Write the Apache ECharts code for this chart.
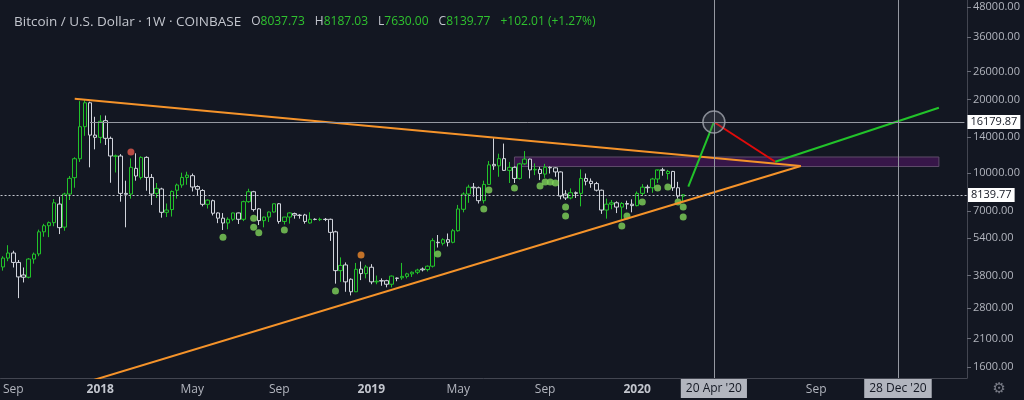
<!DOCTYPE html>
<html>
<head>
<meta charset="utf-8">
<script src="https://cdn.jsdelivr.net/npm/echarts@6/dist/echarts.min.js"></script>
<style>
  html, body { margin: 0; padding: 0; background: #131722; }
  #main { width: 1024px; height: 400px; }
</style>
</head>
<body>
<div id="main"></div>
<script>
// weekly candles from 2017-08-21, [open, high, low, close]
const firstWeek = '2017-08-21';
const weekCount = 189;
const ohlc = [
  [4120, 4560, 3980, 4480], [4480, 5060, 4350, 4700], [4700, 4800, 4100, 4300], [4300, 4400, 3070, 3750],
  [3820, 4100, 3560, 3740], [3740, 4480, 3700, 4440], [4440, 4720, 4250, 4650], [4660, 5860, 4560, 5740],
  [5740, 6190, 5480, 6080], [6080, 6330, 5460, 6260], [6260, 7820, 6050, 7550], [7460, 8000, 5620, 5970],
  [6000, 8300, 5800, 8200], [8200, 9720, 7750, 9510], [9570, 11600, 8700, 11440], [11440, 19700, 11100, 15480],
  [15480, 19891, 14200, 19400], [19400, 19600, 10550, 14300], [14300, 17000, 12500, 14000], [14000, 17250, 13240, 16290],
  [16390, 17200, 13030, 13870], [13870, 14100, 9120, 11740], [11700, 11900, 10050, 11760], [11740, 11950, 7630, 8250],
  [8250, 9300, 5990, 8180], [8200, 11480, 7850, 10550], [10450, 12040, 9300, 9720], [9590, 11700, 9400, 11590],
  [11590, 11700, 8460, 9590], [9590, 9900, 7395, 8200], [8250, 9100, 7900, 8650], [8600, 8700, 6560, 6900],
  [6900, 7500, 6600, 7050], [7080, 8480, 6630, 8400], [8500, 9050, 7850, 8930], [8930, 10030, 8700, 9590],
  [9590, 10120, 8950, 9800], [9750, 9950, 8400, 8760], [8800, 8900, 8050, 8580], [8480, 8580, 7300, 7440],
  [7440, 7800, 7150, 7740], [7700, 7780, 6700, 6840], [6860, 6900, 6230, 6530], [6530, 6850, 5840, 6240],
  [6240, 6580, 5880, 6460], [6460, 6880, 6350, 6860], [6860, 6880, 6180, 6460], [6460, 7700, 6350, 7630],
  [7630, 8620, 7550, 8380], [8380, 8450, 6950, 7080], [7130, 7180, 6120, 6380], [6380, 6620, 5990, 6600],
  [6600, 6950, 6300, 6920], [6920, 7500, 6880, 7480], [7480, 7530, 6200, 6330], [6330, 6600, 6150, 6600],
  [6600, 6900, 6200, 6860], [6820, 6880, 6500, 6720], [6720, 6780, 6500, 6700], [6730, 6800, 6200, 6330],
  [6240, 6900, 6200, 6460], [6460, 6520, 6400, 6450], [6440, 6560, 6350, 6460], [6460, 6540, 6350, 6450],
  [6460, 6500, 5270, 5710], [5740, 5800, 3520, 3980], [3980, 4510, 3580, 4180], [4200, 4300, 3260, 3580],
  [3670, 3700, 3150, 3260], [3260, 4280, 3250, 4030], [4040, 4340, 3640, 3870], [3870, 4200, 3700, 4120],
  [4110, 4230, 3500, 3580], [3580, 3800, 3500, 3600], [3620, 3700, 3450, 3610], [3620, 3650, 3400, 3500],
  [3500, 3800, 3400, 3780], [3710, 3730, 3600, 3700], [3720, 4280, 3650, 3770], [3770, 3900, 3700, 3860],
  [3860, 3950, 3750, 3920], [3920, 4050, 3850, 4000], [4040, 4100, 3950, 4010], [4020, 4180, 3950, 4150],
  [4150, 5400, 4100, 5280], [5200, 5570, 4950, 5180], [5150, 5400, 5050, 5330], [5330, 5650, 5000, 5200],
  [5200, 5900, 5150, 5800], [5800, 7400, 5750, 7120], [7100, 8330, 6900, 8200], [8200, 8950, 7550, 8750],
  [8750, 9100, 8000, 8700], [8700, 8800, 7500, 7700], [7700, 9300, 7500, 8980], [8980, 11200, 8950, 10800],
  [10850, 13880, 10300, 10700], [10700, 12000, 9650, 11450], [11450, 13200, 10200, 10250], [10250, 11100, 9100, 10550],
  [10550, 10650, 9100, 9500], [9500, 11000, 9400, 10900], [10900, 12300, 10800, 11400], [11400, 11450, 9500, 10300],
  [10300, 10950, 9800, 10350], [10350, 10600, 9350, 9950], [9900, 10900, 9550, 10550], [10550, 10650, 9950, 10500],
  [10500, 10550, 9650, 10100], [10100, 10150, 7800, 8050], [8200, 8500, 7750, 7900], [7900, 8650, 7800, 8300],
  [8300, 8400, 7900, 8250], [8250, 10350, 7300, 9500], [9500, 9950, 8900, 9250], [9250, 9500, 8700, 9050],
  [9050, 9200, 8400, 8500], [8500, 8550, 6800, 7050], [7050, 7850, 6500, 7450], [7450, 7750, 7100, 7550],
  [7550, 7650, 6850, 7250], [7250, 7600, 6450, 7500], [7500, 7700, 7100, 7450], [7450, 7800, 6900, 7350],
  [7350, 8400, 7300, 8250], [8250, 9000, 8050, 8750], [8750, 8950, 8300, 8700], [8700, 9550, 8300, 9450],
  [9450, 10200, 9100, 10300], [10300, 10500, 9750, 10250], [9950, 10300, 9400, 10150], [10150, 10200, 8450, 8700],
  [8700, 9200, 7850, 8040], [8037.73, 8187.03, 7630.00, 8139.77]
];

const greenDots = [
  ['2018-06-18', 5450], ['2018-07-30', 6520], ['2018-07-30', 5990], ['2018-08-06', 5690], ['2018-09-10', 5840],
  ['2018-11-19', 3285], ['2019-04-08', 4655], ['2019-06-10', 7120], ['2019-06-17', 8520], ['2019-07-22', 8680],
  ['2019-08-26', 8840], ['2019-09-02', 9185], ['2019-09-09', 9185], ['2019-09-16', 9100], ['2019-09-30', 7255],
  ['2019-09-30', 6665], ['2019-12-16', 6065], ['2019-12-23', 6665], ['2020-01-13', 7605], ['2020-02-03', 8680],
  ['2020-02-17', 8765], ['2020-03-02', 7605], ['2020-03-09', 7255], ['2020-03-09', 6600]
];
const redDots = [['2018-02-12', 12190]];
const orangeDots = [['2018-12-24', 4615]];

const upperTrend = [['2017-11-27', 20150], ['2020-08-17', 10680]];
const lowerTrend = [['2017-11-27', 1343], ['2020-08-17', 10680]];
const projUp = [['2020-03-16', 8790], ['2020-04-20', 16180]];
const projDown = [['2020-04-20', 16180], ['2020-07-13', 11120]];
const projUp2 = [['2020-07-13', 11120], ['2021-02-22', 18520]];
const circleAt = [['2020-04-20', 16180]];
const zone = [['2019-07-22', 11630], ['2021-02-22', 10630]];

const levelLine = ['2017-12-18', 16179.87];
const lastPrice = 8139.77;
const markedDates = ['2020-04-20', '2020-12-28'];
const markedLabels = ["20 Apr '20", "28 Dec '20"];

const yTicks = [48000, 36000, 26000, 20000, 14000, 10000, 7000, 5400, 3800, 2800, 2100, 1600];
const xTicks = [
  ['2017-09-04', 'Sep'], ['2018-01-01', '2018'], ['2018-05-07', 'May'], ['2018-09-03', 'Sep'],
  ['2019-01-07', '2019'], ['2019-05-06', 'May'], ['2019-09-02', 'Sep'], ['2020-01-06', '2020'],
  ['2020-09-07', 'Sep']
];

// build week categories
const weeks = [];
const d0 = new Date(firstWeek + 'T00:00:00Z');
for (let i = 0; i < weekCount; i++) {
  const d = new Date(d0.getTime() + i * 7 * 86400000);
  weeks.push(d.toISOString().slice(0, 10));
}
const lg = Math.log10;
const idx = (d) => weeks.indexOf(d);
const pt = (p) => [idx(p[0]), lg(p[1])];

const tickText = {};
xTicks.forEach(t => { tickText[t[0]] = t[1]; });
const isTick = (i, v) => tickText[v] !== undefined;

const candles = ohlc.map(r => [lg(r[0]), lg(r[3]), lg(r[2]), lg(r[1])]);

const lineSeries = (data, color, z) => ({
  type: 'line', data: data.map(pt), symbol: 'none', z: z, silent: true,
  lineStyle: { color: color, width: 2 }
});

const font = 'Open Sans';
const priceTag = (txt) => ({
  show: true, position: 'end', distance: 3, formatter: txt,
  backgroundColor: '#ffffff', color: '#131722', padding: [2, 3, 1, 3], fontSize: 11, fontFamily: font
});
const dateTag = (txt) => ({
  show: true, position: 'start', distance: 1, formatter: txt,
  backgroundColor: '#b2b5be', color: '#131722', padding: [4, 5, 3, 5], fontSize: 12, fontFamily: font
});

const chart = echarts.init(document.getElementById('main'));
chart.setOption({
  backgroundColor: '#131722',
  animation: false,
  title: {
    left: 9, top: 8,
    text: '{a|Bitcoin / U.S. Dollar · 1W · COINBASE}  {k|O}{v|8037.73}  {k|H}{v|8187.03}  {k|L}{v|7630.00}  {k|C}{v|8139.77}  {v|+102.01 (+1.27%)}',
    textStyle: {
      fontWeight: 'normal',
      rich: {
        a: { color: '#c3c6ce', fontSize: 13.5, fontFamily: font, fontWeight: 'normal' },
        k: { color: '#c3c6ce', fontSize: 12, fontFamily: font, fontWeight: 'normal' },
        v: { color: '#2fc22f', fontSize: 12, fontFamily: font, fontWeight: 'normal' }
      }
    }
  },
  graphic: [
    { type: 'text', right: 18, bottom: 3, style: { text: '⚙', fill: '#787b86', fontSize: 15, fontFamily: 'DejaVu Sans' } }
  ],
  grid: { left: 0, right: 57, top: 0, bottom: 22 },
  xAxis: {
    type: 'category',
    data: weeks,
    boundaryGap: true,
    axisLine: { lineStyle: { color: '#434651' } },
    axisTick: { interval: isTick, alignWithLabel: true, length: 3, lineStyle: { color: '#6a6d78' } },
    axisLabel: {
      interval: isTick,
      color: '#b2b5be', fontSize: 12, fontFamily: font, margin: 6,
      formatter: v => /^\d{4}$/.test(tickText[v]) ? '{y|' + tickText[v] + '}' : tickText[v],
      rich: { y: { fontWeight: 'bold', color: '#c3c6ce', fontSize: 12, fontFamily: font } }
    },
    splitLine: { show: false }
  },
  yAxis: {
    type: 'value',
    position: 'right',
    min: 3.15984, max: 4.70902,
    axisLine: { show: true, lineStyle: { color: '#434651' } },
    axisTick: { show: true, length: 4, customValues: yTicks.map(lg), lineStyle: { color: '#6a6d78' } },
    axisLabel: {
      customValues: yTicks.map(lg),
      color: '#b2b5be', fontSize: 11, fontFamily: font, margin: 6,
      formatter: v => Math.round(Math.pow(10, v)).toFixed(2)
    },
    splitLine: { show: false }
  },
  series: [
    {
      type: 'candlestick',
      data: candles,
      barWidth: 4,
      z: 2,
      itemStyle: {
        color: '#131722', color0: '#131722',
        borderColor: '#22c32a', borderColor0: '#d1d4dc', borderWidth: 1
      }
    },
    {
      type: 'line', data: [], z: 1, silent: true,
      markLine: {
        symbol: ['none', 'none'], silent: true,
        data: [
          [
            { coord: [idx(levelLine[0]), lg(levelLine[1])], lineStyle: { color: '#9598a1', width: 1, type: 'solid' } },
            { coord: [weekCount - 1, lg(levelLine[1])], label: priceTag(levelLine[1].toFixed(2)) }
          ],
          { yAxis: lg(lastPrice), lineStyle: { color: '#c3c6ce', width: 1, type: [2, 2] },
            label: Object.assign(priceTag(lastPrice.toFixed(2)), { distance: 1 }) },
          { xAxis: markedDates[0], lineStyle: { color: '#9598a1', width: 1, type: 'solid' }, label: dateTag(markedLabels[0]) },
          { xAxis: markedDates[1], lineStyle: { color: '#9598a1', width: 1, type: 'solid' }, label: dateTag(markedLabels[1]) }
        ]
      }
    },
    {
      type: 'scatter', data: greenDots.map(pt), symbolSize: 7, z: 3, silent: true,
      itemStyle: { color: '#7fd35a' }
    },
    {
      type: 'scatter', data: redDots.map(pt), symbolSize: 7, z: 3, silent: true,
      itemStyle: { color: '#e35a4e' }
    },
    {
      type: 'scatter', data: orangeDots.map(pt), symbolSize: 7, z: 3, silent: true,
      itemStyle: { color: '#ef8a2c' }
    },
    lineSeries(upperTrend, '#f5932a', 4),
    lineSeries(lowerTrend, '#f5932a', 4),
    lineSeries(projUp, '#22c32a', 4),
    lineSeries(projDown, '#e00b0b', 4),
    lineSeries(projUp2, '#22c32a', 4),
    {
      type: 'line', data: [], z: 5, silent: true,
      markArea: {
        silent: true,
        itemStyle: { color: 'rgba(140,20,165,0.3)', borderColor: '#5f4c6a', borderWidth: 1, opacity: 1 },
        data: [[{ coord: pt(zone[0]) }, { coord: pt(zone[1]) }]]
      }
    },
    {
      type: 'scatter', data: circleAt.map(pt), symbolSize: 22, z: 6, silent: true,
      itemStyle: { color: 'rgba(100,103,114,0.3)', borderColor: '#a3a6af', borderWidth: 1.5 }
    }
  ]
});
</script>
</body>
</html>
